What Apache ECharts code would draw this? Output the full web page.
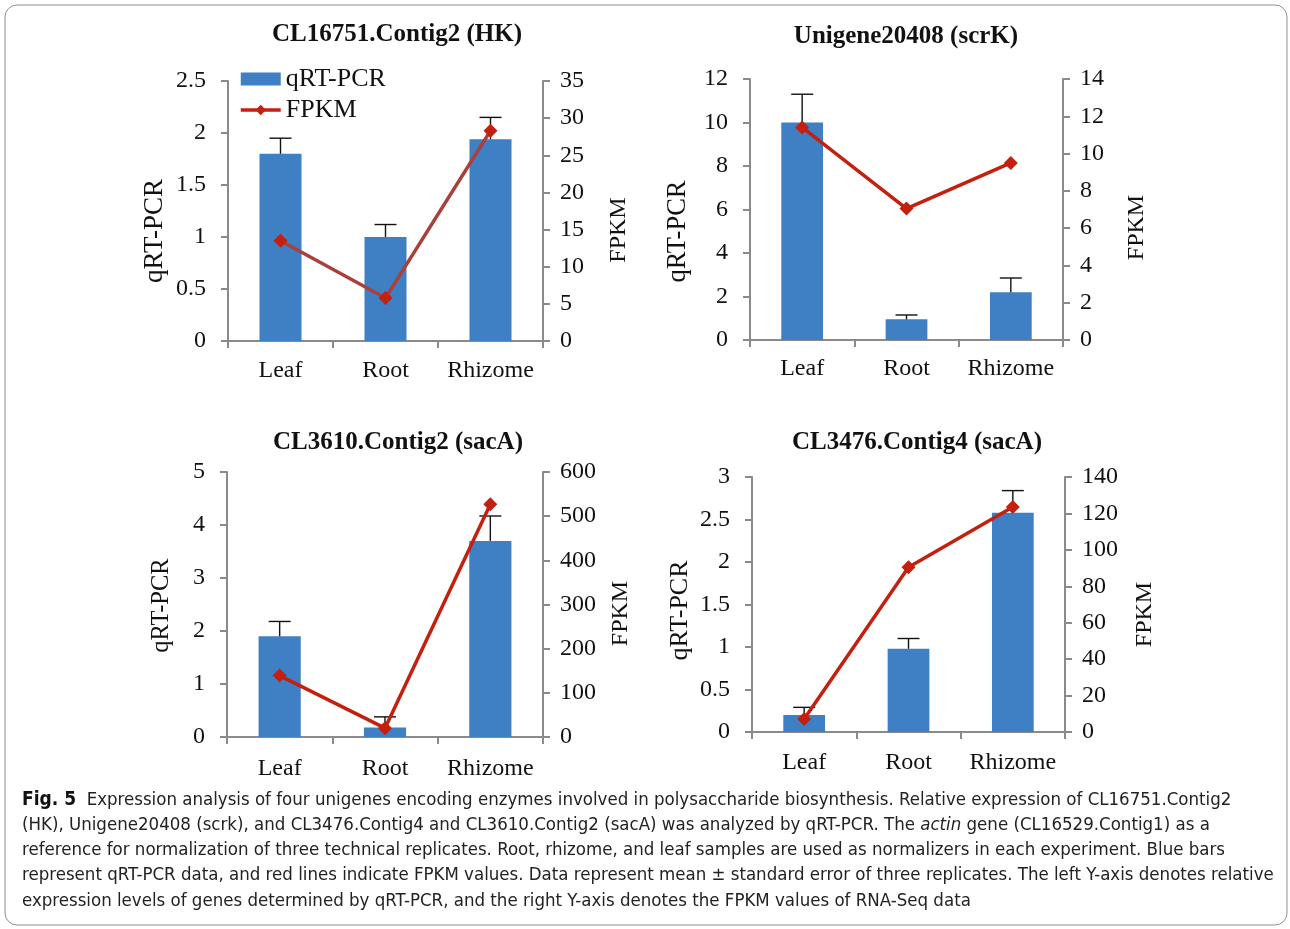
<!DOCTYPE html>
<html>

<head>
  <meta charset="utf-8" />
  <title></title>
  <script src="https://cdn.jsdelivr.net/npm/echarts@6/dist/echarts.min.js"></script>
  <style>
    html, body { margin: 0; padding: 0; background: #fff; }
  </style>
</head>

<body>
  <div id="main" style="width: 1290px;height:929px;"></div>
  <script type="text/javascript">
    // data
    var categories = ['Leaf', 'Root', 'Rhizome'];
    var titles = ['CL16751.Contig2 (HK)', 'Unigene20408 (scrK)', 'CL3610.Contig2 (sacA)', 'CL3476.Contig4 (sacA)'];

    var qpcrHK = [1.80, 1.00, 1.94];
    var qpcrHKErr = [1.95, 1.12, 2.15];
    var fpkmHK = [13.5, 5.8, 28.3];

    var qpcrScrK = [10.0, 0.95, 2.2];
    var qpcrScrKErr = [11.3, 1.15, 2.85];
    var fpkmScrK = [11.4, 7.05, 9.5];

    var qpcrSacA1 = [1.9, 0.18, 3.7];
    var qpcrSacA1Err = [2.18, 0.38, 4.17];
    var fpkmSacA1 = [139, 20, 527];

    var qpcrSacA2 = [0.2, 0.98, 2.58];
    var qpcrSacA2Err = [0.29, 1.1, 2.84];
    var fpkmSacA2 = [7.1, 90.5, 123.5];

    var leftMax = [2.5, 12, 5, 3];
    var leftStep = [0.5, 2, 1, 0.5];
    var rightMax = [35, 14, 600, 140];
    var rightStep = [5, 2, 100, 20];

    var caption = [
      '{b|Fig. 5}  Expression analysis of four unigenes encoding enzymes involved in polysaccharide biosynthesis. Relative expression of CL16751.Contig2',
      '(HK), Unigene20408 (scrk), and CL3476.Contig4 and CL3610.Contig2 (sacA) was analyzed by qRT-PCR. The {i|actin} gene (CL16529.Contig1) as a',
      'reference for normalization of three technical replicates. Root, rhizome, and leaf samples are used as normalizers in each experiment. Blue bars',
      'represent qRT-PCR data, and red lines indicate FPKM values. Data represent mean \u00b1 standard error of three replicates. The left Y-axis denotes relative',
      'expression levels of genes determined by qRT-PCR, and the right Y-axis denotes the FPKM values of RNA-Seq data'
    ];

    var panels = [
      { bar: qpcrHK, err: qpcrHKErr, fpkm: fpkmHK },
      { bar: qpcrScrK, err: qpcrScrKErr, fpkm: fpkmScrK },
      { bar: qpcrSacA1, err: qpcrSacA1Err, fpkm: fpkmSacA1 },
      { bar: qpcrSacA2, err: qpcrSacA2Err, fpkm: fpkmSacA2 }
    ];

    // layout
    var grids = [
      { left: 228, top: 81, width: 315, height: 260 },
      { left: 750, top: 79, width: 313, height: 261 },
      { left: 227, top: 472, width: 316, height: 265 },
      { left: 752, top: 477, width: 313, height: 255 }
    ];
    var titlePos = [[397, 22], [906, 24], [398, 430], [917, 430]];
    var leftGap = [60, 58, 53, 59];
    var rightGap = [64, 62, 66, 68];
    var leftNameSize = [27, 26.5, 24.5, 26];
    var catMargin = [18, 17, 20, 19];
    // vertical shift (px, down) of the axis names from the grid middle
    var leftShift = [20, 22, 1, 6];
    var rightShift = [19, 18, 9, 10];

    var serif = '"Liberation Serif", "Times New Roman", serif';
    var sans = '"DejaVu Sans Condensed", "Noto Sans", sans-serif';
    var blue = '#3f7fc3';
    var red = '#c4200f';
    var axisGrey = '#8a8a8a';

    function renderError(params, api) {
      var i = api.value(0);
      var lo = api.coord([i, api.value(1)]);
      var hi = api.coord([i, api.value(2)]);
      var st = { stroke: '#111', lineWidth: 1.4 };
      return {
        type: 'group',
        children: [
          { type: 'line', shape: { x1: lo[0], y1: lo[1], x2: hi[0], y2: hi[1] }, style: st },
          { type: 'line', shape: { x1: hi[0] - 11, y1: hi[1], x2: hi[0] + 11, y2: hi[1] }, style: st }
        ]
      };
    }

    var option = {
      animation: false,
      backgroundColor: '#fff',
      title: [],
      grid: [],
      xAxis: [],
      yAxis: [],
      series: [],
      legend: {
        left: 239,
        top: 66,
        padding: 0,
        orient: 'vertical',
        itemWidth: 40,
        itemHeight: 13,
        itemGap: 5,
        textStyle: { fontFamily: serif, fontSize: 26, color: '#111' },
        data: [
          { name: 'qRT-PCR', icon: 'rect', itemStyle: { color: blue } },
          { name: 'FPKM', itemStyle: { color: red }, lineStyle: { color: red, width: 3.5 } }
        ]
      },
      graphic: [
        {
          type: 'rect',
          shape: { x: 5, y: 5, width: 1282, height: 920, r: 12 },
          style: { fill: 'none', stroke: '#8f8f8f', lineWidth: 1 },
          silent: true
        }
      ]
    };

    panels.forEach(function (p, k) {
      option.title.push({
        text: titles[k],
        left: titlePos[k][0],
        top: titlePos[k][1],
        textAlign: 'center',
        padding: 0,
        textStyle: { fontFamily: serif, fontSize: 25, fontWeight: 'bold', color: '#111' }
      });
      option.grid.push({
        left: grids[k].left, top: grids[k].top, width: grids[k].width, height: grids[k].height,
        containLabel: false, outerBoundsMode: 'none'
      });
      option.xAxis.push({
        type: 'category',
        gridIndex: k,
        data: categories,
        axisLine: { lineStyle: { color: axisGrey, width: 2 } },
        axisTick: { show: true, length: 7, lineStyle: { color: axisGrey, width: 2 } },
        axisLabel: { interval: 0, fontFamily: serif, fontSize: 24, color: '#111', margin: catMargin[k] }
      });
      var yCommon = {
        type: 'value',
        gridIndex: k,
        min: 0,
        nameLocation: 'middle',
        nameRotate: 90,
        splitLine: { show: false },
        axisLine: { show: true, lineStyle: { color: axisGrey, width: 2 } },
        axisTick: { show: true, length: 7, lineStyle: { color: axisGrey, width: 2 } }
      };
      option.yAxis.push(Object.assign({}, yCommon, {
        position: 'left',
        name: 'qRT-PCR',
        nameGap: leftGap[k],
        nameTextStyle: { fontFamily: serif, fontSize: leftNameSize[k], color: '#111', padding: [0, 2 * leftShift[k], 0, 0] },
        max: leftMax[k],
        interval: leftStep[k],
        axisLabel: { fontFamily: serif, fontSize: 24, color: '#111', margin: 22 }
      }));
      option.yAxis.push(Object.assign({}, yCommon, {
        position: 'right',
        name: 'FPKM',
        nameGap: rightGap[k],
        nameTextStyle: { fontFamily: serif, fontSize: 24, color: '#111', padding: [0, 2 * rightShift[k], 0, 0] },
        max: rightMax[k],
        interval: rightStep[k],
        axisLabel: { fontFamily: serif, fontSize: 24, color: '#111', margin: 17 }
      }));

      option.series.push({
        name: 'qRT-PCR',
        type: 'bar',
        xAxisIndex: k,
        yAxisIndex: 2 * k,
        barWidth: '40%',
        itemStyle: { color: blue },
        data: p.bar,
        z: 2
      });
      option.series.push({
        name: 'err' + k,
        type: 'custom',
        xAxisIndex: k,
        yAxisIndex: 2 * k,
        renderItem: renderError,
        data: p.bar.map(function (v, i) { return [i, v, p.err[i]]; }),
        z: 3
      });
      option.series.push({
        name: 'FPKM',
        type: 'line',
        xAxisIndex: k,
        yAxisIndex: 2 * k + 1,
        symbol: 'diamond',
        symbolSize: 14,
        lineStyle: { color: k === 0 ? '#a8403c' : red, width: 3.5 },
        itemStyle: { color: red },
        data: p.fpkm,
        z: 4
      });
    });

    caption.forEach(function (line, i) {
      option.graphic.push({
        type: 'text',
        x: 22,
        y: 800 + i * 25.2,
        silent: true,
        style: {
          text: line,
          fontFamily: sans,
          fontSize: 18.5,
          fill: '#222',
          verticalAlign: 'middle',
          rich: {
            b: { fontFamily: sans, fontSize: 19, fontWeight: 'bold', fill: '#111' },
            i: { fontFamily: sans, fontSize: 18.5, fontStyle: 'italic', fill: '#222' }
          }
        }
      });
    });

    var chart = echarts.init(document.getElementById('main'));
    chart.setOption(option);

    window.onresize = function () {
      chart.resize();
    };
  </script>
</body>

</html>
